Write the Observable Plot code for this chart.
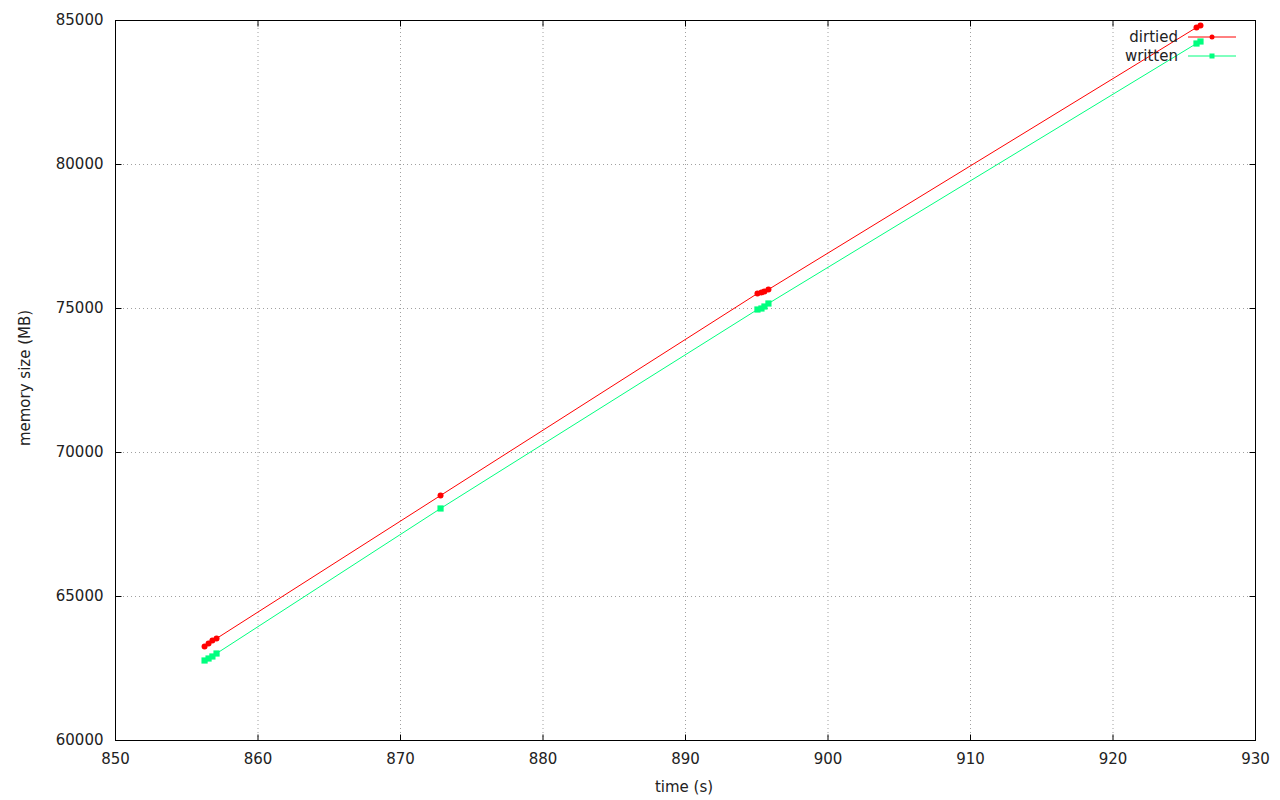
<!DOCTYPE html>
<html>
<head>
<meta charset="utf-8">
<script src="https://cdn.jsdelivr.net/npm/d3@7"></script>
<script src="https://cdn.jsdelivr.net/npm/@observablehq/plot@0.6"></script>
<style>
  html, body { margin: 0; padding: 0; background: #fff; }
  #wrap { position: relative; width: 1280px; height: 800px; font-family: "DejaVu Sans", sans-serif; }
  #legend { position: absolute; left: 0; top: 0; pointer-events: none; }
</style>
</head>
<body>
<div id="wrap"></div>
<script>
// data
const dirtiedTime = [856.25, 856.53, 856.8, 857.09, 872.81, 895.05, 895.33, 895.54, 895.82, 925.86, 926.14];
const dirtiedMem  = [63264, 63368, 63472, 63542, 68507, 75521, 75556, 75590, 75660, 84757, 84826];
const writtenTime = [856.25, 856.53, 856.8, 857.09, 872.81, 895.05, 895.33, 895.54, 895.82, 925.86, 926.14];
const writtenMem  = [62778, 62847, 62917, 63021, 68056, 74965, 75000, 75069, 75174, 84201, 84271];
const xTicks = [850, 860, 870, 880, 890, 900, 910, 920, 930];
const yTicks = [60000, 65000, 70000, 75000, 80000, 85000];
const seriesNames = ["dirtied", "written"];
const seriesColors = ["#ff0000", "#00ff7f"];
const xLabel = "time (s)";
const yLabel = "memory size (MB)";

const dirtied = dirtiedTime.map((t, i) => ({t, m: dirtiedMem[i]}));
const written = writtenTime.map((t, i) => ({t, m: writtenMem[i]}));

// inward tick symbols (gnuplot style)
const TL = 6;
const tickUp = {draw(ctx) { ctx.moveTo(0, 0); ctx.lineTo(0, -TL); }};
const tickDown = {draw(ctx) { ctx.moveTo(0, 0); ctx.lineTo(0, TL); }};
const tickRight = {draw(ctx) { ctx.moveTo(0, 0); ctx.lineTo(TL, 0); }};
const tickLeft = {draw(ctx) { ctx.moveTo(0, 0); ctx.lineTo(-TL, 0); }};

const font = "DejaVu Sans, sans-serif";
const chart = Plot.plot({
  width: 1280,
  height: 800,
  marginLeft: 115,
  marginRight: 25,
  marginTop: 20,
  marginBottom: 60,
  style: {fontFamily: font, fontSize: "15px", color: "#000", background: "#fff"},
  x: {domain: [850, 930], label: null},
  y: {domain: [60000, 85000], label: null},
  marks: [
    Plot.gridX(xTicks.slice(1, -1), {stroke: "#a0a0a0", strokeOpacity: 1, strokeDasharray: "1,3"}),
    Plot.gridY(yTicks.slice(1, -1), {stroke: "#a0a0a0", strokeOpacity: 1, strokeDasharray: "1,3"}),
    Plot.axisX(xTicks, {anchor: "bottom", tickSize: 0, tickPadding: 13, tickFormat: d => String(d), fontSize: 15, label: null, fill: "#222"}),
    Plot.axisY(yTicks, {anchor: "left", tickSize: 0, tickPadding: 12, tickFormat: d => String(d), fontSize: 15, label: null, fill: "#222"}),
    Plot.dot(xTicks, {x: d => d, frameAnchor: "bottom", symbol: tickUp, stroke: "#000", strokeWidth: 1, fill: "none", r: 3}),
    Plot.dot(xTicks, {x: d => d, frameAnchor: "top", symbol: tickDown, stroke: "#000", strokeWidth: 1, fill: "none", r: 3}),
    Plot.dot(yTicks, {y: d => d, frameAnchor: "left", symbol: tickRight, stroke: "#000", strokeWidth: 1, fill: "none", r: 3}),
    Plot.dot(yTicks, {y: d => d, frameAnchor: "right", symbol: tickLeft, stroke: "#000", strokeWidth: 1, fill: "none", r: 3}),
    Plot.line(dirtied, {x: "t", y: "m", stroke: seriesColors[0], strokeWidth: 1}),
    Plot.dot(dirtied, {x: "t", y: "m", fill: seriesColors[0], r: 3, symbol: "circle"}),
    Plot.line(written, {x: "t", y: "m", stroke: seriesColors[1], strokeWidth: 1}),
    Plot.dot(written, {x: "t", y: "m", fill: seriesColors[1], r: 3.5, symbol: "square"}),
    Plot.frame({stroke: "#000", strokeWidth: 1})
  ]
});

const wrap = document.getElementById("wrap");
wrap.appendChild(chart);

// axis titles and legend as overlay svg
const ov = d3.select(wrap).append("svg")
  .attr("id", "legend").attr("width", 1280).attr("height", 800)
  .style("font-family", font).style("font-size", "15px").style("fill", "#222");

ov.append("text").attr("x", 684).attr("y", 792).attr("text-anchor", "middle").text(xLabel);
ov.append("text").attr("transform", "translate(30,378) rotate(-90)").attr("text-anchor", "middle").text(yLabel);

seriesNames.forEach((name, i) => {
  const y = 37 + i * 19;
  ov.append("text").attr("x", 1178).attr("y", y + 5).attr("text-anchor", "end").text(name);
  ov.append("line").attr("x1", 1188).attr("x2", 1236).attr("y1", y).attr("y2", y).attr("stroke", seriesColors[i]);
  if (i === 0) ov.append("circle").attr("cx", 1212).attr("cy", y).attr("r", 2.5).attr("fill", seriesColors[i]);
  else ov.append("rect").attr("x", 1209.5).attr("y", y - 2.5).attr("width", 5).attr("height", 5).attr("fill", seriesColors[i]);
});
</script>
</body>
</html>
